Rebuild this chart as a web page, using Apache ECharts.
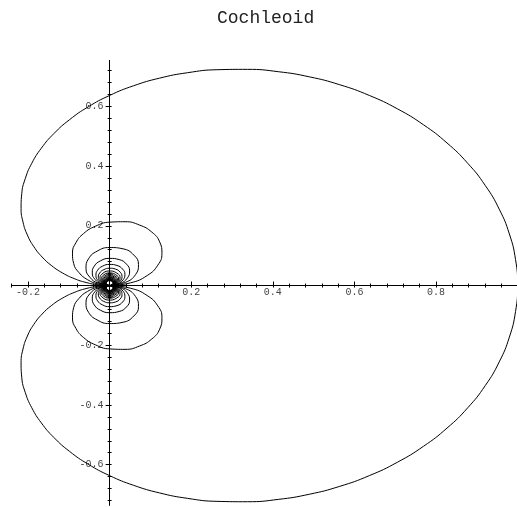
<!DOCTYPE html>
<html>
<head>
<meta charset="utf-8">
<script src="https://cdn.jsdelivr.net/npm/echarts@6/dist/echarts.min.js"></script>
<style>
  html, body { margin: 0; padding: 0; background: #fff; }
  #chart { width: 517px; height: 507px; }
</style>
</head>
<body>
<div id="chart"></div>
<script>
// Cochleoid r = sin(t)/t, sampled points (x, y) of the upper half.
// Large lobe, from (1, 0) over the top round to the origin.
const outerTop = [
  [1, 0], [0.99493, 0.08705], [0.97982, 0.17277], [0.95493, 0.25587], [0.92073, 0.33512],
  [0.87782, 0.40934], [0.82699, 0.47746], [0.76915, 0.53856], [0.70532, 0.59183],
  [0.63662, 0.63662], [0.56425, 0.67245], [0.48946, 0.69902], [0.41350, 0.71620],
  [0.33763, 0.72404], [0.26306, 0.72276], [0.19099, 0.71277], [0.12248, 0.69460],
  [0.05853, 0.66895], [0, 0.63662], [-0.05236, 0.59853], [-0.09798, 0.55568],
  [-0.13642, 0.50912], [-0.16741, 0.45994], [-0.19083, 0.40924], [-0.20675, 0.35810],
  [-0.21536, 0.30757], [-0.21702, 0.25864], [-0.21221, 0.21221], [-0.20152, 0.16910],
  [-0.18566, 0.13000], [-0.16540, 0.09549], [-0.14158, 0.06602], [-0.11509, 0.04189],
  [-0.08681, 0.02326], [-0.05764, 0.01016], [-0.02843, 0.00249], [0, 0]
];

// Inner loops, each leaving and returning to the origin.
const loop2 = [
  [0, 0], [0.05157, 0.00909], [0.09207, 0.03351], [0.11814, 0.06821], [0.12824, 0.10761],
  [0.12266, 0.14618], [0.10337, 0.17905], [0.07366, 0.20237], [0.03768, 0.21372],
  [0, 0.21221], [-0.03499, 0.19846], [-0.06350, 0.17446], [-0.08270, 0.14324],
  [-0.09101, 0.10846], [-0.08816, 0.07398], [-0.07518, 0.04341], [-0.05416, 0.01971],
  [-0.02799, 0.00494], [0, 0]
];
const loop3 = [
  [0, 0], [0.03820, 0.01023], [0.06361, 0.03673], [0.07074, 0.07074], [0.05907, 0.10231],
  [0.03293, 0.12289], [0, 0.12732], [-0.03080, 0.11496], [-0.05169, 0.08952],
  [-0.05787, 0.05787], [-0.04865, 0.02809], [-0.02728, 0.00731], [0, 0]
];
const loop4 = [
  [0, 0], [0.02581, 0.00692], [0.04353, 0.02513], [0.04897, 0.04897], [0.04135, 0.07162],
  [0.02329, 0.08692], [0, 0.09095], [-0.02221, 0.08288], [-0.03759, 0.06511],
  [-0.04244, 0.04244], [-0.03596, 0.02076], [-0.02032, 0.00544], [0, 0]
];
const loop5 = [
  [0, 0], [0.01949, 0.00522], [0.03308, 0.01910], [0.03745, 0.03745], [0.03181, 0.05509],
  [0.01802, 0.06724], [0, 0.07074], [-0.01736, 0.06480], [-0.02954, 0.05116],
  [-0.03351, 0.03351], [-0.02852, 0.01646], [-0.01619, 0.00434], [0, 0]
];
const loop6 = [
  [0, 0], [0.015655, 0.004195], [0.026677, 0.015402], [0.030315, 0.030315],
  [0.025844, 0.044762], [0.014691, 0.054828], [0, 0.057875], [-0.014253, 0.053192],
  [-0.024323, 0.042129], [-0.027679, 0.027679], [-0.023628, 0.013642],
  [-0.013450, 0.003604], [0, 0]
];
const loop7 = [
  [0, 0], [0.013081, 0.003505], [0.022351, 0.012904], [0.025465, 0.025465],
  [0.021763, 0.037695], [0, 0.048971], [-0.020675, 0.035810], [-0.023579, 0.023579],
  [-0.020171, 0.011645], [-0.011505, 0.003083], [0, 0]
];
const loop8 = [
  [0, 0], [0.011234, 0.003010], [0.019233, 0.011104], [0.021952, 0.021952],
  [0.018795, 0.032554], [0, 0.042441], [-0.017978, 0.031139], [-0.020536, 0.020536],
  [-0.017596, 0.010159], [-0.010052, 0.002693], [0, 0]
];
const loop9 = [
  [0, 0], [0.009845, 0.002638], [0.016877, 0.009744], [0.019292, 0.019292],
  [0.016540, 0.028648], [0, 0.037448], [-0.015904, 0.027546], [-0.018189, 0.018189],
  [-0.015604, 0.009009], [-0.008925, 0.002391], [0, 0]
];
const loop10 = [
  [0, 0], [0.008761, 0.002347], [0.015036, 0.008681], [0.017206, 0.017206],
  [0.014768, 0.025578], [0, 0.033506], [-0.014258, 0.024696], [-0.016324, 0.016324],
  [-0.014017, 0.008093], [-0.008025, 0.002150], [0, 0]
];
// The innermost loops, packed tightly round the origin.
const tinyLoops = [
  [[0, 0], [0.007892, 0.002115], [0.013557, 0.007827], [0.015527, 0.015527], [0, 0.030315],
   [-0.014805, 0.014805], [-0.012723, 0.007346], [-0.007290, 0.001953], [0, 0]],
  [[0, 0], [0.007180, 0.001924], [0.012343, 0.007126], [0.014147, 0.014147], [0, 0.027679],
   [-0.013545, 0.013545], [-0.011648, 0.006725], [-0.006678, 0.001789], [0, 0]],
  [[0, 0], [0.006586, 0.001765], [0.011329, 0.006541], [0.012992, 0.012992], [0, 0.025465],
   [-0.012483, 0.012483], [-0.010740, 0.006201], [-0.006161, 0.001651], [0, 0]],
  [[0, 0], [0.006082, 0.001630], [0.010468, 0.006044], [0.012012, 0.012012], [0, 0.023579],
   [-0.011575, 0.011575], [-0.009964, 0.005753], [-0.005718, 0.001532], [0, 0]],
  [[0, 0], [0.005650, 0.001514], [0.009729, 0.005617], [0.011169, 0.011169], [0, 0.021952],
   [-0.010790, 0.010790], [-0.009292, 0.005365], [-0.005335, 0.001429], [0, 0]],
  [[0, 0], [0.005276, 0.001414], [0.009088, 0.005247], [0.010436, 0.010436], [0, 0.020536],
   [-0.010105, 0.010105], [-0.008705, 0.005026], [-0.005000, 0.001340], [0, 0]],
  [[0, 0], [0.004948, 0.001326], [0.008526, 0.004922], [0.009794, 0.009794], [0, 0.019292],
   [-0.009502, 0.009502], [-0.008188, 0.004727], [-0.004704, 0.001260], [0, 0]],
  [[0, 0], [0.004658, 0.001248], [0.008029, 0.004636], [0.009226, 0.009226], [0, 0.018189],
   [-0.008966, 0.008966], [-0.007729, 0.004462], [-0.004442, 0.001190], [0, 0]],
  [[0, 0], [0.004401, 0.001179], [0.007587, 0.004380], [0.008721, 0.008721], [0, 0.017206],
   [-0.008488, 0.008488], [-0.007319, 0.004225], [-0.004207, 0.001127], [0, 0]],
  [[0, 0], [0.004170, 0.001117], [0.007191, 0.004152], [0.008268, 0.008268], [0, 0.016324],
   [-0.008058, 0.008058], [-0.006950, 0.004012], [-0.003996, 0.001071], [0, 0]]
];

// Labelled ticks
const xTickLabels = [-0.2, 0.2, 0.4, 0.6, 0.8];
const yTickLabels = [-0.6, -0.4, -0.2, 0.2, 0.4, 0.6];

// Small ticks every 0.04 along both axes
function steps(from, to, step) {
  const out = [];
  for (let i = Math.round(from / step); i * step <= to + 1e-9; i++) {
    out.push(+(i * step).toFixed(2));
  }
  return out;
}
const xMinor = steps(-0.24, 0.96, 0.04);
const yMinor = steps(-0.72, 0.72, 0.04);

// The curve is symmetric about the x axis: the lower half mirrors the upper.
const mirror = pts => pts.map(p => [p[0], -p[1]]);

const lineStyle = { color: '#000', width: 1 };
function curve(data) {
  return {
    type: 'line', data: data, smooth: true, showSymbol: false, symbol: 'none',
    lineStyle: lineStyle, silent: true, animation: false, clip: true
  };
}

const series = [curve(mirror(outerTop).reverse().concat(outerTop.slice(1)))];
[loop2, loop3, loop4, loop5, loop6, loop7, loop8, loop9, loop10].concat(tinyLoops)
  .forEach(loop => {
    series.push(curve(loop));
    series.push(curve(mirror(loop)));
  });

// Plot area and ranges
const X_MIN = -0.24, X_MAX = 1.0, Y_MIN = -0.735, Y_MAX = 0.753;
const G_LEFT = 11.7, G_TOP = 60.7, G_W = 505.9, G_H = 444.3;
// Axes cross at the origin: shift each axis from the plot edge onto the zero line.
const xAxisShift = -(Y_MIN / (Y_MAX - Y_MIN)) * G_H;   // up from the bottom edge
const yAxisShift = -(X_MIN / (X_MAX - X_MIN)) * G_W;   // right from the left edge

const axisLineStyle = { show: true, onZero: false, lineStyle: { color: '#000', width: 1 } };
const labelFont = { fontFamily: 'Liberation Mono, monospace', fontSize: 10, color: '#444' };

function xAxisDef(ticks, inside, len, labels) {
  return {
    type: 'value', position: 'bottom', offset: -xAxisShift, min: X_MIN, max: X_MAX,
    axisLine: axisLineStyle,
    axisTick: { show: true, inside: inside, length: len, customValues: ticks,
                lineStyle: { color: '#000', width: 1 } },
    axisLabel: labels ? Object.assign({ show: true, margin: 2, customValues: labels,
                formatter: v => v.toFixed(1) }, labelFont) : { show: false },
    splitLine: { show: false }, minorTick: { show: false }
  };
}
function yAxisDef(ticks, inside, len, labels) {
  return {
    type: 'value', position: 'left', offset: -yAxisShift, min: Y_MIN, max: Y_MAX,
    axisLine: axisLineStyle,
    axisTick: { show: true, inside: inside, length: len, customValues: ticks,
                lineStyle: { color: '#000', width: 1 } },
    axisLabel: labels ? Object.assign({ show: true, margin: 6, customValues: labels,
                formatter: v => v.toFixed(1) }, labelFont) : { show: false },
    splitLine: { show: false }, minorTick: { show: false }
  };
}

const chart = echarts.init(document.getElementById('chart'), null, { renderer: 'canvas' });
chart.setOption({
  animation: false,
  backgroundColor: '#fff',
  title: {
    text: 'Cochleoid', left: 212, top: 4,
    textStyle: { fontFamily: 'Liberation Mono, monospace', fontSize: 18, fontWeight: 'normal', color: '#222' }
  },
  grid: { left: G_LEFT, top: G_TOP, width: G_W, height: G_H, containLabel: false, outerBoundsMode: 'none' },
  xAxis: [
    xAxisDef(xTickLabels, true, 4, xTickLabels),
    xAxisDef(xMinor, true, 2, null),
    xAxisDef(xMinor, false, 2, null)
  ],
  yAxis: [
    yAxisDef(yTickLabels, false, 4, yTickLabels),
    yAxisDef(yMinor, false, 2, null),
    yAxisDef(yMinor, true, 2, null)
  ],
  series: series
});
</script>
</body>
</html>
